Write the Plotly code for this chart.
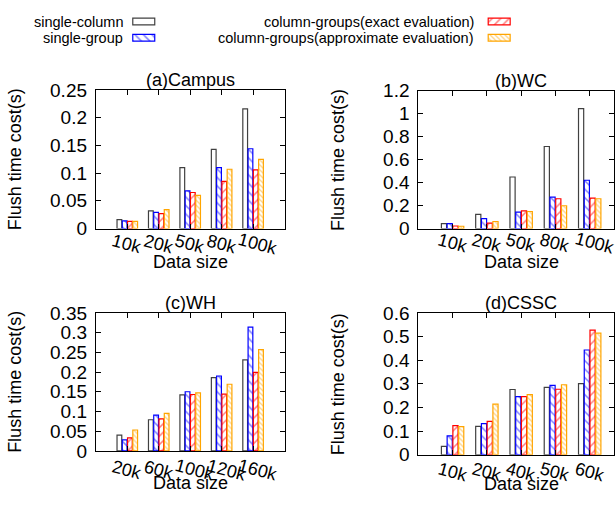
import plotly.graph_objects as go

W, H = 615, 506

# ---------------- data ----------------
series_names = ["single-column", "single-group",
                "column-groups(exact evaluation)", "column-groups(approximate evaluation)"]

campus_sizes = ["10k", "20k", "50k", "80k", "100k"]
campus_single_column = [0.016, 0.032, 0.110, 0.143, 0.216]
campus_single_group = [0.014, 0.029, 0.068, 0.110, 0.144]
campus_exact = [0.013, 0.027, 0.065, 0.085, 0.106]
campus_approx = [0.013, 0.034, 0.060, 0.107, 0.125]

wc_sizes = ["10k", "20k", "50k", "80k", "100k"]
wc_single_column = [0.042, 0.123, 0.448, 0.713, 1.042]
wc_single_group = [0.042, 0.086, 0.142, 0.273, 0.420]
wc_exact = [0.022, 0.047, 0.153, 0.259, 0.265]
wc_approx = [0.020, 0.061, 0.148, 0.198, 0.259]

wh_sizes = ["20k", "60k", "100k", "120k", "160k"]
wh_single_column = [0.040, 0.079, 0.142, 0.186, 0.231]
wh_single_group = [0.028, 0.091, 0.150, 0.190, 0.314]
wh_exact = [0.033, 0.081, 0.143, 0.144, 0.199]
wh_approx = [0.053, 0.095, 0.147, 0.169, 0.257]

cssc_sizes = ["10k", "20k", "40k", "50k", "60k"]
cssc_single_column = [0.035, 0.120, 0.276, 0.285, 0.301]
cssc_single_group = [0.080, 0.132, 0.246, 0.293, 0.443]
cssc_exact = [0.123, 0.141, 0.246, 0.277, 0.527]
cssc_approx = [0.119, 0.214, 0.254, 0.296, 0.514]

panel_titles = ["(a)Campus", "(b)WC", "(c)WH", "(d)CSSC"]
y_ranges = [0.25, 1.2, 0.35, 0.6]
y_dticks = [0.05, 0.2, 0.05, 0.1]

# ---------------- styling ----------------
FONT = "Liberation Sans, Arial, sans-serif"
FS = 18
colors = ["#404040", "#0000ff", "#ff0000", "#ffa500"]
patterns = [dict(shape=""),
            dict(shape="\\", size=6, solidity=0.25),
            dict(shape="/", size=6, solidity=0.25),
            dict(shape="\\", size=3.5, solidity=0.35)]


def px(x):
    return x / W


def py(y):
    return 1 - y / H


# frames (pixel boxes): left, right, top, bottom
frames = [
    (96, 285, 83.5, 228),
    (419, 625, 84, 228),
    (96, 285, 316, 460),
    (419, 625, 316, 464),
]
label_dy = [15, 14, 19, 17]
xtitle_dy = [35, 35, 34, 31]

panels = [
    (campus_sizes, [campus_single_column, campus_single_group, campus_exact, campus_approx]),
    (wc_sizes, [wc_single_column, wc_single_group, wc_exact, wc_approx]),
    (wh_sizes, [wh_single_column, wh_single_group, wh_exact, wh_approx]),
    (cssc_sizes, [cssc_single_column, cssc_single_group, cssc_exact, cssc_approx]),
]

fig = go.Figure()
annotations = []
layout = {}

for i, (cats, vals) in enumerate(panels):
    k = "" if i == 0 else str(i + 1)
    xa, ya = "x" + k, "y" + k
    L, R, T, B = frames[i]
    r_clip = min(R, W)
    unit = (R - L) / 6.0
    xmax = -1 + (r_clip - L) / unit
    for j in range(4):
        fig.add_trace(go.Bar(
            x=cats, y=vals[j], xaxis=xa, yaxis=ya, name=series_names[j],
            showlegend=False,
            marker=dict(color="white", line=dict(color=colors[j], width=1.2),
                        pattern=dict(fgcolor=colors[j], bgcolor="white", **patterns[j]) if j else None),
        ))
    layout["xaxis" + k] = dict(
        domain=[px(L), px(r_clip)], anchor=ya, type="category",
        range=[-1, xmax], showticklabels=False,
        ticks="inside", ticklen=5, tickcolor="black", mirror="ticks",
        showline=True, linecolor="black", linewidth=1, showgrid=False, zeroline=False,
    )
    layout["yaxis" + k] = dict(
        domain=[py(B), py(T)], anchor=xa, range=[0, y_ranges[i]], dtick=y_dticks[i],
        ticks="inside", ticklen=5, tickcolor="black", mirror="ticks",
        showline=True, linecolor="black", linewidth=1, showgrid=False, zeroline=False,
        tickfont=dict(family=FONT, size=FS + 1, color="black"), ticklabelstandoff=4,
    )
    cx = (L + R) / 2
    annotations.append(dict(text=panel_titles[i], x=px(cx), y=py(T - 10), xref="paper", yref="paper",
                            showarrow=False, xanchor="center", yanchor="middle",
                            font=dict(family=FONT, size=FS, color="black")))
    annotations.append(dict(text="Data size", x=px(cx), y=py(B + xtitle_dy[i]), xref="paper", yref="paper",
                            showarrow=False, xanchor="center", yanchor="middle",
                            font=dict(family=FONT, size=FS, color="black")))
    annotations.append(dict(text="Flush time cost(s)", x=px(L - 81), y=py((T + B) / 2),
                            xref="paper", yref="paper", textangle=-90,
                            showarrow=False, xanchor="center", yanchor="middle",
                            font=dict(family=FONT, size=FS, color="black")))
    for c in cats:
        annotations.append(dict(text=c, x=c, y=py(B), xref=xa, yref="paper",
                                showarrow=False, xanchor="center", yanchor="middle",
                                textangle=15, yshift=-label_dy[i], xshift=(len(c) - 3) * 5,
                                font=dict(family=FONT, size=FS, color="black")))

# ---------------- custom legend (text left, swatch right) ----------------
layout["xaxis5"] = dict(domain=[0, 1], range=[0, W], visible=False, fixedrange=True, anchor="y5")
layout["yaxis5"] = dict(domain=[py(45), 1], range=[45, 0], visible=False, fixedrange=True, anchor="x5")
leg_pos = [(125, 144, 12), (125, 144, 29), (477, 500, 12), (477, 500, 29)]
for j, (tx, sx, yy) in enumerate(leg_pos):
    fig.add_trace(go.Bar(
        x=[sx], y=[7], base=[yy - 3.5], width=[22], offset=-11, orientation="v",
        xaxis="x5", yaxis="y5", showlegend=False, hoverinfo="skip",
        marker=dict(color="white", line=dict(color=colors[j], width=1.2),
                    pattern=dict(fgcolor=colors[j], bgcolor="white", **patterns[j]) if j else None),
    ))
    annotations.append(dict(text=series_names[j], x=px(tx), y=py(yy), xref="paper", yref="paper",
                            showarrow=False, xanchor="right", yanchor="middle",
                            font=dict(family=FONT, size=14.5, color="black")))

fig.update_layout(
    width=W, height=H, margin=dict(l=0, r=0, t=0, b=0),
    paper_bgcolor="white", plot_bgcolor="white",
    barmode="group", bargap=0.33, bargroupgap=0.1,
    showlegend=False, annotations=annotations,
    font=dict(family=FONT, size=FS, color="black"),
    **layout,
)

fig.write_html("out.html")
